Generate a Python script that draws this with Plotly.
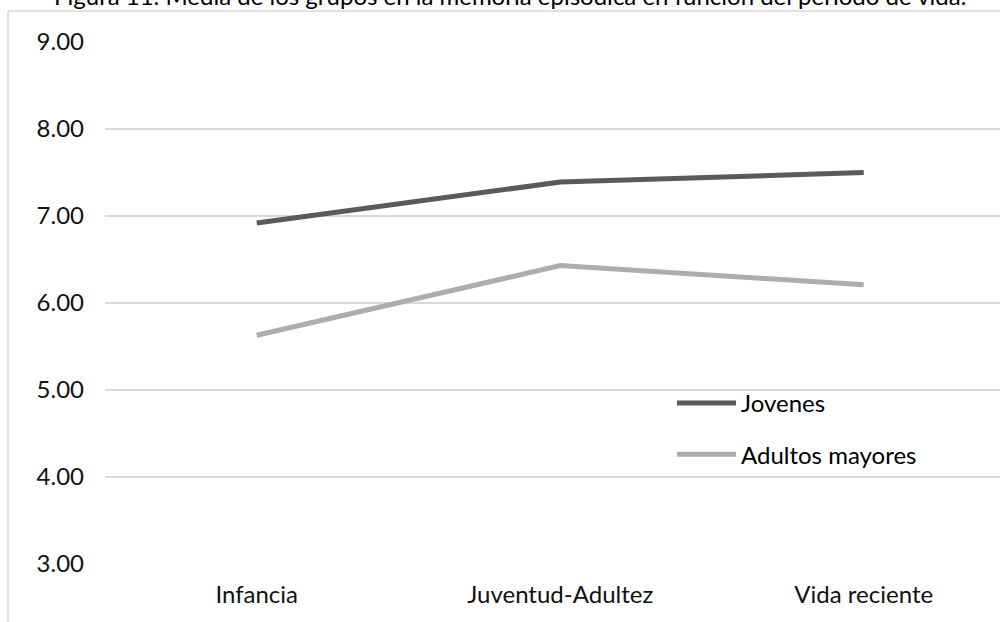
import plotly.graph_objects as go

# Periods of life and group means for episodic memory
periodos = ["Infancia", "Juventud-Adultez", "Vida reciente"]
jovenes = [6.92, 7.39, 7.50]
adultos_mayores = [5.63, 6.43, 6.21]
y_ticks = [3, 4, 5, 6, 7, 8, 9]

titulo = "Figura 11. Media de los grupos en la memoria episódica en función del período de vida."

W, H = 1000, 622
ML, MR, MT, MB = 105, 0, 42, 58
plot_w = W - ML - MR
plot_h = H - MT - MB

def px_x(x):
    return (x - ML) / plot_w

def px_y(y):
    return 1 - (y - MT) / plot_h

FONT = "Lato"

fig = go.Figure()
fig.add_trace(go.Scatter(
    x=periodos, y=jovenes, name="Jovenes", mode="lines",
    line=dict(color="#5a5a5a", width=5), legendgroup="a",
))
fig.add_trace(go.Scatter(
    x=periodos, y=adultos_mayores, name="Adultos mayores", mode="lines",
    line=dict(color="#adadad", width=5), legendgroup="b",
))

# Chart frame (left and top edges)
frame = dict(color="#d9d9d9", width=1.5)
fig.add_shape(type="line", xref="paper", yref="paper",
              x0=px_x(8), x1=px_x(8), y0=px_y(H + 5), y1=px_y(11), line=frame)
fig.add_shape(type="line", xref="paper", yref="paper",
              x0=px_x(8), x1=px_x(W + 5), y0=px_y(11), y1=px_y(11), line=frame)

fig.add_annotation(
    text=titulo, xref="paper", yref="paper",
    x=px_x(510), y=px_y(-4), xanchor="center", yanchor="middle",
    showarrow=False, font=dict(family=FONT, size=24, color="#000000"),
)

fig.update_layout(
    width=W, height=H,
    margin=dict(l=ML, r=MR, t=MT, b=MB, pad=0),
    paper_bgcolor="white", plot_bgcolor="white",
    font=dict(family=FONT, size=24, color="#111111"),
    showlegend=True,
    legend=dict(
        x=px_x(672), y=px_y(381), xanchor="left", yanchor="top",
        bgcolor="rgba(0,0,0,0)", itemwidth=59, tracegroupgap=17,
        font=dict(family=FONT, size=24, color="#000000"),
    ),
    xaxis=dict(
        type="category", range=[-0.5, 2.449], showgrid=False,
        showline=False, zeroline=False, ticks="",
        ticklabelstandoff=14,
        tickfont=dict(family=FONT, size=24, color="#111111"),
    ),
    yaxis=dict(
        range=[3, 9], tickvals=y_ticks, tickformat=".2f",
        showgrid=True, gridcolor="#d9d9d9", gridwidth=1.5,
        zeroline=False, showline=False, ticks="",
        ticklabelstandoff=20,
        tickfont=dict(family=FONT, size=24, color="#111111"),
    ),
)

fig.write_html("out.html")
